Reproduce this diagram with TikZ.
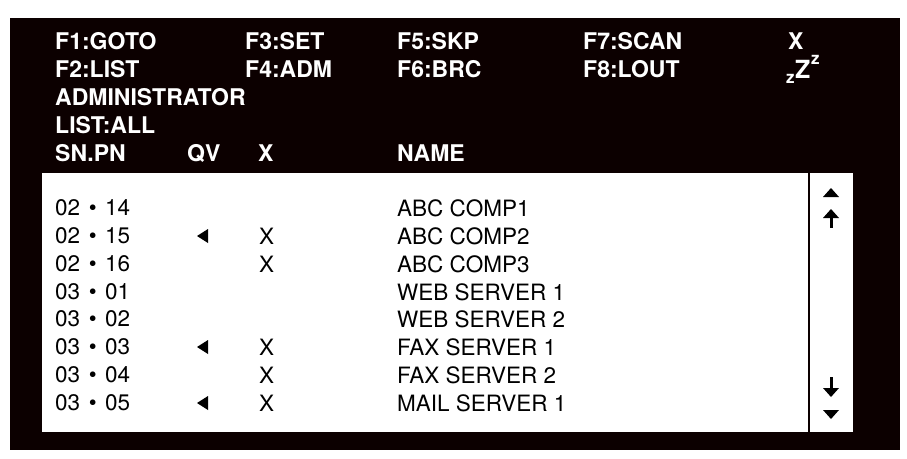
\documentclass[tikz,border=0pt]{standalone}
\usepackage{fontspec}
\setmainfont{TeX Gyre Heros}
\begin{document}
\begin{tikzpicture}[x=1pt,y=-1pt,
  hd/.style={anchor=west,inner sep=0pt,text=white,font=\fontsize{23}{24}\selectfont\bfseries},
  rw/.style={anchor=west,inner sep=0pt,text=black,font=\fontsize{22.5}{24}\selectfont},
  tri/.style={fill=black,draw=none}]
\useasboundingbox (0,0) rectangle (907,458);
\fill[white] (0,0) rectangle (907,458);
\fill[black!88!red!40!black] (10,18) rectangle (900,450);
\node[fill=white,minimum width=766pt,minimum height=259pt,anchor=north west,inner sep=0pt] (list) at (42,173) {};
\node[fill=white,minimum width=43pt,minimum height=259pt,anchor=north west,inner sep=0pt] (scroll) at (810,173) {};
% header
\node[hd] (h1) at (55,41) {F1:GOTO};
\node[hd] (h2) at (245,41) {F3:SET};
\node[hd] (h3) at (397,41) {F5:SKP};
\node[hd] (h4) at (583,41) {F7:SCAN};
\node[hd] (h5) at (788,41) {X};
\node[hd] (h6) at (55,69) {F2:LIST};
\node[hd] (h7) at (245,69) {F4:ADM};
\node[hd] (h8) at (397,69) {F6:BRC};
\node[hd] (h9) at (583,69) {F8:LOUT};
\node[hd,font=\fontsize{17}{17}\selectfont\bfseries] (z1) at (786,79) {z};
\node[hd,font=\fontsize{25}{25}\selectfont\bfseries] (z2) at (795,69) {Z};
\node[hd,font=\fontsize{17}{17}\selectfont\bfseries] (z3) at (811,60) {z};
\node[hd] (h10) at (55,97) {ADMINISTRATOR};
\node[hd] (h11) at (55,125) {LIST:ALL};
\node[hd] (h12) at (55,153) {SN.PN};
\node[hd] (h13) at (187,153) {QV};
\node[hd] (h14) at (258,153) {X};
\node[hd] (h15) at (397,153) {NAME};
% rows
\foreach \y/\a/\b/\q/\x/\n [count=\i] in {
 208/02/14/0/0/ABC COMP1,
 236/02/15/1/1/ABC COMP2,
 264/02/16/0/1/ABC COMP3,
 292/03/01/0/0/WEB SERVER 1,
 319/03/02/0/0/WEB SERVER 2,
 347/03/03/1/1/FAX SERVER 1,
 375/03/04/0/1/FAX SERVER 2,
 403/03/05/1/1/MAIL SERVER 1}{
  \node[rw] (sn\i) at (55,\y) {\a\hspace{0.38em}•\hspace{0.38em}\b};
  \node[rw] (nm\i) at (397,\y) {\n};
  \ifnum\q=1 \fill (197,\y) -- (208,\y-7) -- (208,\y+7) -- cycle; \fi
  \ifnum\x=1 \node[rw] (x\i) at (259,\y) {X}; \fi
}
% scroll arrows
\fill[tri] (831,188) -- (839,197) -- (823,197) -- cycle;
\fill[tri] (831,209) -- (839,218) -- (823,218) -- cycle;
\fill[tri] (829.5,217) rectangle (832.5,228);
\fill[tri] (829.5,377) rectangle (832.5,388);
\fill[tri] (831,397) -- (839,388) -- (823,388) -- cycle;
\fill[tri] (831,419) -- (839,410) -- (823,410) -- cycle;
\end{tikzpicture}
\end{document}
